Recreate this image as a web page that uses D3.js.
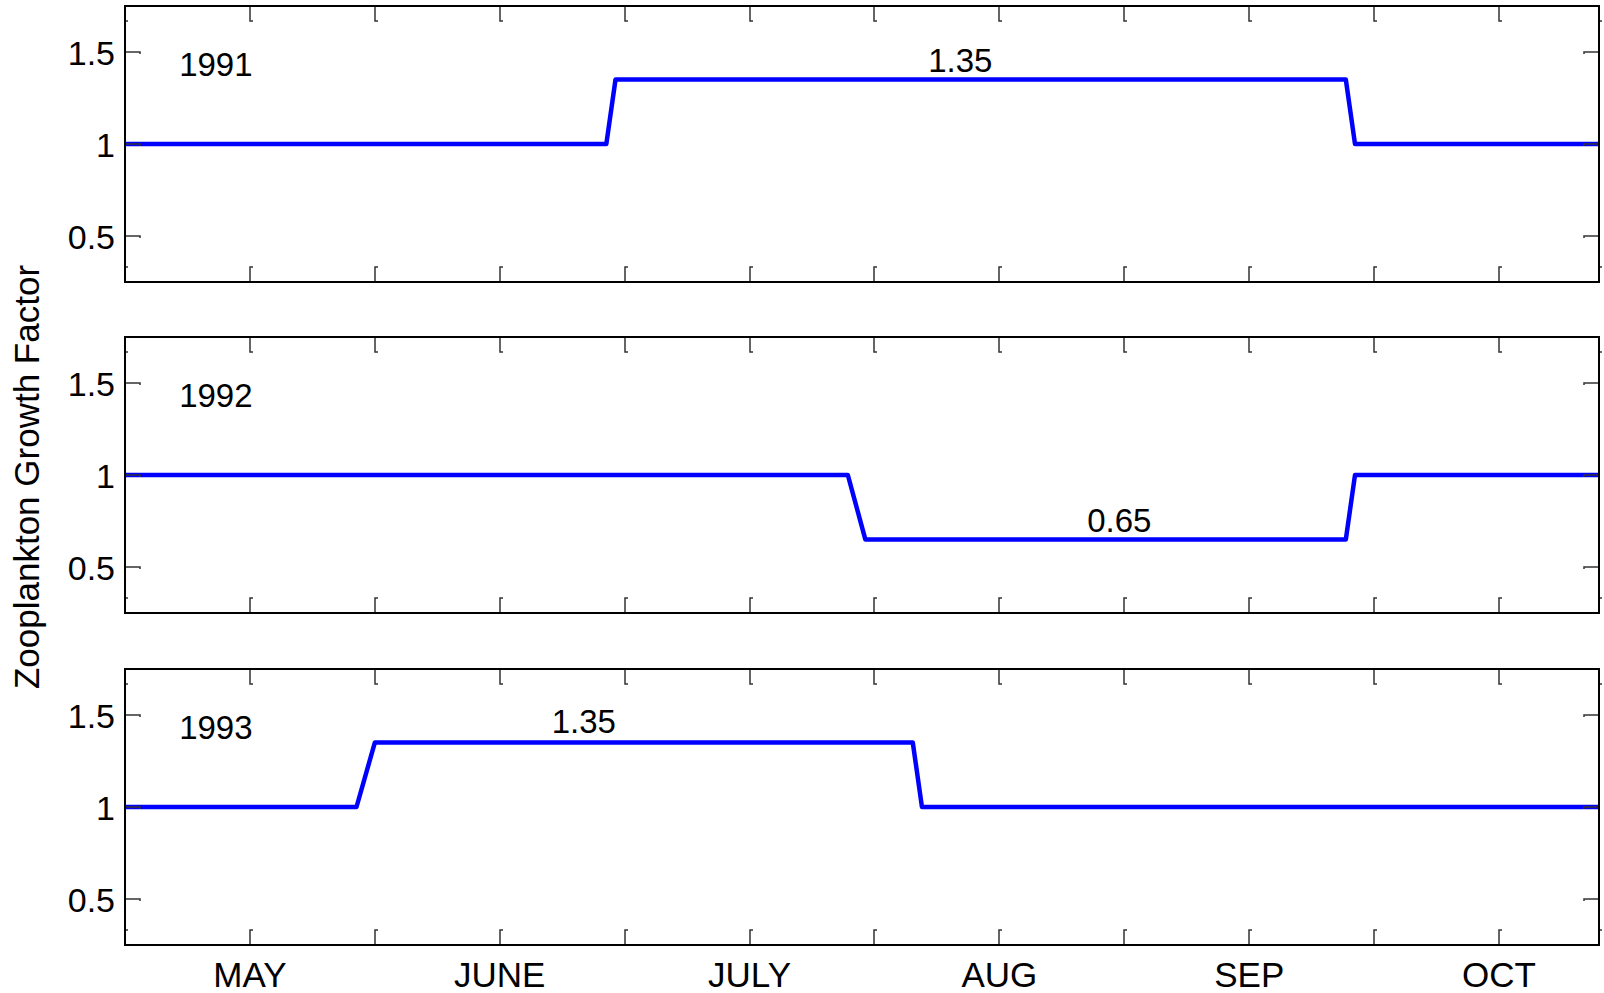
<!DOCTYPE html>
<html>
<head>
<meta charset="utf-8">
<script src="https://cdn.jsdelivr.net/npm/d3@7"></script>
<style>
  body { margin: 0; background: #fff; }
  text { font-family: "Liberation Sans", Arial, sans-serif; fill: #000; }
</style>
</head>
<body>
<div id="chart"></div>
<script>
const width = 1604;
const height = 993;

// days counted from May 1
const years = ['1991', '1992', '1993'];
const days1991 = [0, 57.8, 58.9, 146.6, 147.7, 177];
const vals1991 = [1, 1, 1.35, 1.35, 1, 1];
const days1992 = [0, 86.8, 88.9, 146.6, 147.7, 177];
const vals1992 = [1, 1, 0.65, 0.65, 1, 1];
const days1993 = [0, 27.8, 30.0, 94.6, 95.7, 177];
const vals1993 = [1, 1, 1.35, 1.35, 1, 1];

const annoText = ['1.35', '0.65', '1.35'];
const annoDay = [100.3, 119.4, 55.1];
const annoVal = [1.39, 0.69, 1.40];

const monthLabels = ['MAY', 'JUNE', 'JULY', 'AUG', 'SEP', 'OCT'];
const monthDays = [15, 45, 75, 105, 135, 165];
const tickDays = [0, 15, 30, 45, 60, 75, 90, 105, 120, 135, 150, 165, 177];
const yTicks = [0.5, 1, 1.5];

const series = [
    days1991.map((d, i) => [d, vals1991[i]]),
    days1992.map((d, i) => [d, vals1992[i]]),
    days1993.map((d, i) => [d, vals1993[i]])
];

const left = 125, right = 1599;
const panelH = 276;
const panelTops = [6, 337, 669];

const svg = d3.select('#chart')
    .append('svg')
    .attr('width', width)
    .attr('height', height);

const x = d3.scaleLinear().domain([0, 177]).range([left, right]);

const tickLen = 15;
const tickColor = '#333';

years.forEach((yr, p) => {
    const top = panelTops[p];
    const y = d3.scaleLinear().domain([0.25, 1.75]).range([top + panelH, top]);
    const g = svg.append('g');

    // line
    const line = d3.line().x(d => x(d[0])).y(d => y(d[1]));
    g.append('path')
        .datum(series[p])
        .attr('d', line)
        .attr('fill', 'none')
        .attr('stroke', '#0000ff')
        .attr('stroke-width', 4.5)
        .attr('stroke-linejoin', 'round');

    // x ticks top & bottom (matlab style with tiny foot)
    tickDays.forEach(t => {
        const xp = Math.round(x(t));
        g.append('path')
            .attr('d', `M${xp},${top}V${top + tickLen}h3`)
            .attr('fill', 'none').attr('stroke', tickColor).attr('stroke-width', 1.5);
        g.append('path')
            .attr('d', `M${xp},${top + panelH}V${top + panelH - tickLen}h3`)
            .attr('fill', 'none').attr('stroke', tickColor).attr('stroke-width', 1.5);
    });

    // y ticks left & right
    yTicks.forEach(v => {
        const yp = Math.round(y(v));
        g.append('path')
            .attr('d', `M${left},${yp}H${left + tickLen}v2`)
            .attr('fill', 'none').attr('stroke', tickColor).attr('stroke-width', 1.5);
        g.append('path')
            .attr('d', `M${right},${yp}H${right - tickLen}v2`)
            .attr('fill', 'none').attr('stroke', tickColor).attr('stroke-width', 1.5);
    });

    // box
    g.append('rect')
        .attr('x', left).attr('y', top)
        .attr('width', right - left).attr('height', panelH)
        .attr('fill', 'none')
        .attr('stroke', '#000')
        .attr('stroke-width', 2);

    // y tick labels
    g.selectAll('.ylab')
        .data(yTicks)
        .enter()
        .append('text')
        .attr('x', left - 10)
        .attr('y', d => y(d) + 13)
        .attr('text-anchor', 'end')
        .style('font-size', '34px')
        .text(d => d);

    // year label
    g.append('text')
        .attr('x', x(6.5))
        .attr('y', y(1.37))
        .style('font-size', '33px')
        .text(yr);

    // value annotation
    g.append('text')
        .attr('x', x(annoDay[p]))
        .attr('y', y(annoVal[p]))
        .attr('text-anchor', 'middle')
        .style('font-size', '33px')
        .text(annoText[p]);
});

// month labels under the last panel
const lastBottom = panelTops[2] + panelH;
svg.selectAll('.month')
    .data(monthLabels)
    .enter()
    .append('text')
    .attr('x', (d, i) => x(monthDays[i]))
    .attr('y', lastBottom + 42)
    .attr('text-anchor', 'middle')
    .style('font-size', '35px')
    .text(d => d);

// y axis title
svg.append('text')
    .attr('transform', `translate(39,477) rotate(-90)`)
    .attr('text-anchor', 'middle')
    .style('font-size', '35px')
    .text('Zooplankton Growth Factor');
</script>
</body>
</html>
